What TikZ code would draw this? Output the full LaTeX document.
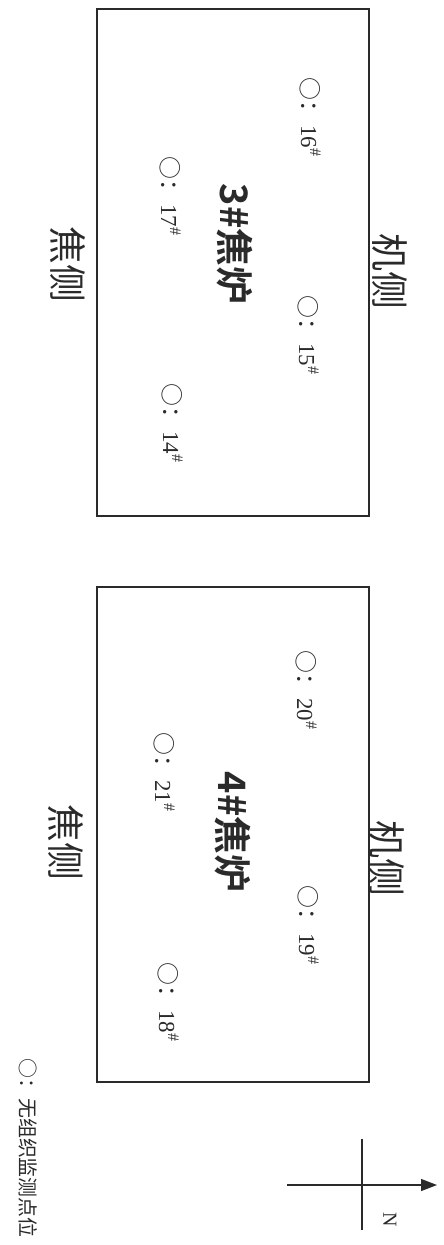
\documentclass[tikz,border=0pt]{standalone}
\usepackage{fontspec}
\setmainfont{Liberation Serif}
\newfontfamily\cjk{Noto Sans CJK SC}
\newfontfamily\cjkb{Noto Sans CJK SC Bold}
\usetikzlibrary{arrows.meta}
\definecolor{ink}{HTML}{2A2A2A}
\tikzset{
  oven/.style={draw=ink, line width=1.3bp, inner sep=0pt, rectangle},
  sidelbl/.style={rotate=-90, inner sep=0pt, text=ink, font=\cjk\fontsize{38}{38}\selectfont},
  ovenlbl/.style={rotate=-90, inner sep=0pt, text=ink, font=\cjkb\fontsize{38}{38}\selectfont},
  ptlbl/.style={rotate=-90, inner sep=0pt, text=ink, font=\fontsize{23}{23}\selectfont},
  axis/.style={draw=ink, line width=1.2bp}
}
\newcommand{\mpt}[1]{{\cjk ○：}\hspace{2bp}#1\textsuperscript{\#}}
\begin{document}
\begin{tikzpicture}[x=1bp,y=-1bp]
\useasboundingbox (0,0) rectangle (444,1245);
% ovens
\node[oven, minimum width=272bp, minimum height=507bp] (b3) at (233,262.5) {};
\node[oven, minimum width=272bp, minimum height=495bp] (b4) at (233,834.5) {};
% side labels
\node[sidelbl] (m3) at (390,271) {机侧};
\node[sidelbl] (c3) at (68,264) {焦侧};
\node[sidelbl] (m4) at (387,858) {机侧};
\node[sidelbl] (c4) at (66,842) {焦侧};
% oven names
\node[ovenlbl] (n3) at (235,244) {3\#焦炉};
\node[ovenlbl] (n4) at (233,832) {4\#焦炉};
% monitoring points
\node[ptlbl] (p16) at (310,117) {\mpt{16}};
\node[ptlbl] (p17) at (170,196) {\mpt{17}};
\node[ptlbl] (p15) at (308,335) {\mpt{15}};
\node[ptlbl] (p14) at (172,423) {\mpt{14}};
\node[ptlbl] (p20) at (306,690) {\mpt{20}};
\node[ptlbl] (p21) at (164,772) {\mpt{21}};
\node[ptlbl] (p19) at (308,925) {\mpt{19}};
\node[ptlbl] (p18) at (168,1002) {\mpt{18}};
% legend
\node[ptlbl, font=\cjk\fontsize{20}{20}\selectfont] (leg) at (28,1148) {○：无组织监测点位};
% north arrow
\coordinate (aw) at (287,1185);
\coordinate (ae) at (437,1185);
\coordinate (at) at (362,1139);
\coordinate (ab) at (362,1230);
\draw[axis, -{Triangle[length=16bp,width=12bp]}] (aw) -- (ae);
\draw[axis] (at) -- (ab);
\node[rotate=-90, inner sep=0pt, text=ink, font=\fontsize{20}{20}\selectfont] (nn) at (390,1220) {N};
\end{tikzpicture}
\end{document}
